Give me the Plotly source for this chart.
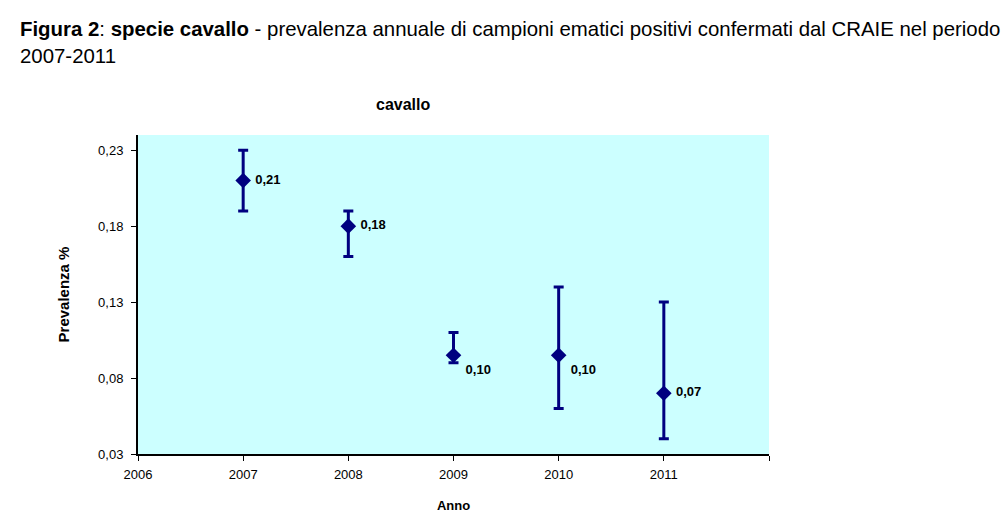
import plotly.graph_objects as go

anni = [2007, 2008, 2009, 2010, 2011]
prevalenza = [0.21, 0.18, 0.095, 0.095, 0.07]
lim_sup = [0.23, 0.19, 0.11, 0.14, 0.13]
lim_inf = [0.19, 0.16, 0.09, 0.06, 0.04]
etichette = ["0,21", "0,18", "0,10", "0,10", "0,07"]
posizioni = ["middle right", "middle right", "bottom right", "bottom right", "middle right"]
x_ticks = [2006, 2007, 2008, 2009, 2010, 2011, 2012]
x_ticklabels = ["2006", "2007", "2008", "2009", "2010", "2011", ""]
y_ticks = [0.03, 0.08, 0.13, 0.18, 0.23]
y_ticklabels = ["0,03", "0,08", "0,13", "0,18", "0,23"]

err_plus = [s - p for s, p in zip(lim_sup, prevalenza)]
err_minus = [p - i for p, i in zip(prevalenza, lim_inf)]

navy = "#000080"
font = "Liberation Sans, Arial, sans-serif"

fig = go.Figure()
fig.add_trace(go.Scatter(
    x=anni, y=prevalenza, mode="markers+text",
    marker=dict(symbol="diamond", size=12, color=navy),
    error_y=dict(type="data", symmetric=False, array=err_plus, arrayminus=err_minus,
                 color=navy, thickness=3, width=5),
    text=[" " + t for t in etichette], textposition=posizioni,
    textfont=dict(family=font, size=13, color="black", weight="bold"),
    cliponaxis=False, showlegend=False,
))

W = 631
H = 319
fig.update_layout(
    width=1006, height=529,
    margin=dict(l=138, r=237, t=135, b=75),
    paper_bgcolor="white", plot_bgcolor="#CCFFFF",
    font=dict(family=font, size=13, color="black"),
    xaxis=dict(range=[2006, 2012], tickvals=x_ticks, ticktext=x_ticklabels,
               showgrid=False, zeroline=False, showline=True, linecolor="black", linewidth=2,
               ticks="outside", ticklen=5, tickcolor="black", tickwidth=1, ticklabelstandoff=2,
               title=dict(text="<b>Anno</b>", font=dict(size=13), standoff=20)),
    yaxis=dict(range=[0.03, 0.24], tickvals=y_ticks, ticktext=y_ticklabels,
               showgrid=False, zeroline=False, showline=True, linecolor="black", linewidth=2,
               ticks="outside", ticklen=5, tickcolor="black", tickwidth=1, ticklabelstandoff=5,
               title=dict(text="<b>Prevalenza %</b>", font=dict(size=15), standoff=25)),
    annotations=[
        dict(text="<b>Figura 2</b>: <b>specie cavallo</b> - prevalenza annuale di campioni ematici positivi confermati dal CRAIE nel periodo<br>2007-2011",
             xref="paper", yref="paper", x=(18 - 138) / W, y=1 + (135 - 16) / H, xanchor="left", yanchor="top",
             align="left", showarrow=False, font=dict(size=20.4, family=font)),
        dict(text="<b>cavallo</b>", xref="paper", yref="paper", x=(403 - 138) / W, y=1 + (135 - 105) / H,
             xanchor="center", yanchor="middle", showarrow=False, font=dict(size=16, family=font)),
    ],
)

fig.write_html("out.html")
